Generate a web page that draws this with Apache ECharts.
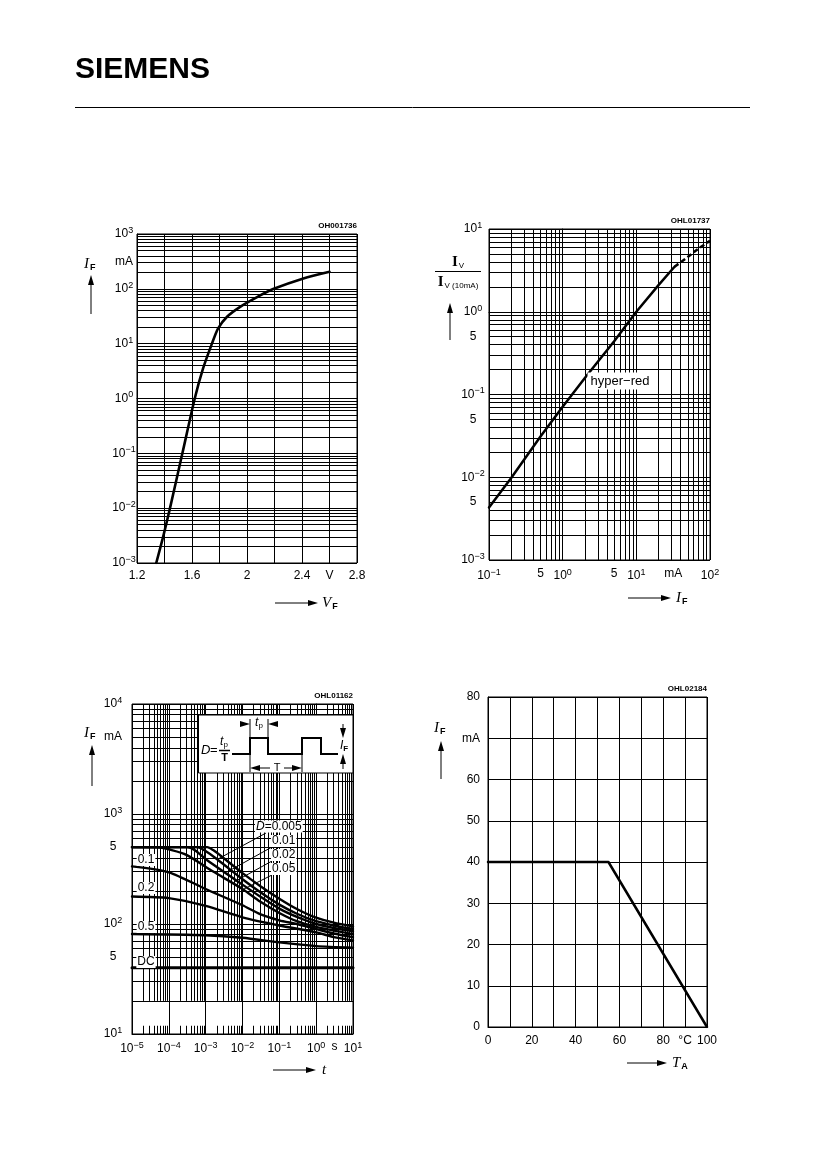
<!DOCTYPE html>
<html><head><meta charset="utf-8">
<script src="https://cdn.jsdelivr.net/npm/echarts@6.0.0/dist/echarts.min.js"></script>
<style>html,body{margin:0;padding:0;background:#fff}#c{width:826px;height:1169px}</style>
</head><body><div id="c"></div>
<script>
// ---------------- DATA ----------------
// Chart 1: I_F = f(V_F)
const vfVolts   = [1.34, 1.39, 1.44, 1.53, 1.62, 1.68, 1.745, 1.79, 1.855, 1.95, 2.07, 2.19, 2.41, 2.6];
const ifForward = [0.001, 0.003, 0.01, 0.1, 1, 3.5, 10, 19, 31, 47, 70, 99, 155, 205];
// Chart 2: I_V / I_V(10mA) = f(I_F)
const ivCurrent    = [0.1, 0.2, 0.5, 1, 2, 5, 10, 20, 33];
const ivRatio      = [0.0043, 0.0098, 0.031, 0.071, 0.158, 0.44, 1.0, 2.1, 3.5];
const ivCurrentExt = [33, 50, 70, 100];
const ivRatioExt   = [3.5, 4.6, 5.8, 7.2];
// Chart 3: I_F = f(t_p), D = parameter  ([t in s, I_F in mA])
const pulseD0005 = [[1e-5,500],[1.1e-3,500],[1.6e-3,470],[3e-3,400],[1e-2,290],[3e-2,222],[0.1,170],[0.3,137],[1,114],[3,103],[10,95]];
const pulseD001  = [[1e-5,500],[6e-4,500],[9e-4,470],[2e-3,390],[1e-2,255],[3e-2,195],[0.1,150],[0.3,124],[1,106],[3,97],[10,90]];
const pulseD002  = [[1e-5,500],[3.2e-4,500],[5e-4,470],[1.1e-3,380],[1e-2,228],[3e-2,178],[0.1,138],[0.3,116],[1,100],[3,92],[10,86]];
const pulseD005  = [[1e-5,500],[5e-5,498],[1.2e-4,470],[3e-4,425],[1.6e-3,300],[1e-2,208],[3e-2,160],[0.1,126],[0.3,106],[1,94],[3,87],[10,81]];
const pulseD01   = [[1e-5,334],[1e-4,295],[1e-3,208],[1e-2,148],[3e-2,123],[0.1,108],[0.3,100],[1,90],[3,82],[10,76]];
const pulseD02   = [[1e-5,178],[1e-4,172],[1e-3,146],[1e-2,115],[0.1,97],[1,84],[3,76],[10,71]];
const pulseD05   = [[1e-5,81],[1e-3,79],[1e-2,75],[0.1,68],[1,63],[10,61]];
const pulseDC    = [[1e-5,40],[10,40]];
const pulseLabels = ['0.1','0.2','0.5','DC'];
const dLabels = ['D=0.005','0.01','0.02','0.05'];
// Chart 4: I_F = f(T_A)
const taCelsius = [0, 55, 100];
const ifMax     = [40, 40, 0];
// Tick labels
const c1XLabels = [1.2, 1.6, 2, 2.4, 2.6, 2.8];
const c4XLabels = [0, 20, 40, 60, 80, 90, 100];
const c4YLabels = [0, 10, 20, 30, 40, 50, 60, 70, 80];

// ---------------- HELPERS ----------------
const FONT = '"Liberation Sans", Arial, sans-serif';
const L = Math.log10;
const isInt = v => Math.abs(v - Math.round(v)) < 1e-6;
const near = (a, b) => Math.abs(a - b) < 1e-6;
function expLabel(v){ const e = Math.round(v); return '{b|10}{s|' + (e < 0 ? '−' + (-e) : e) + '}'; }
const rich = {
  b: {fontSize: 12, fontFamily: FONT, color: '#000'},
  s: {fontSize: 9, fontFamily: FONT, color: '#000', padding: [0, 0, 7, 0]}
};
function logGrid(lo, hi){ const a = []; for (let e = lo; e < hi; e++) for (let k = 1; k <= 9; k++) a.push(e + L(k)); a.push(hi); return a; }
const black = {color: '#000', width: 1};
function baseAxis(gi, extra){
  return Object.assign({
    type: 'value', gridIndex: gi,
    axisLine: {show: true, lineStyle: black},
    axisTick: {show: false},
    splitLine: {show: true, lineStyle: black},
  }, extra);
}
function lbl(extra){ return Object.assign({color: '#000', fontSize: 12, fontFamily: FONT, rich}, extra); }
function toLog(pairs){ return pairs.map(p => [L(p[0]), L(p[1])]); }
function curve(xi, data, w, extra){
  return Object.assign({type: 'line', xAxisIndex: xi, yAxisIndex: xi, data, symbol: 'none', showSymbol: false,
    smooth: 0.25, lineStyle: {color: '#000', width: w || 2.4, join: 'round', cap: 'round'}, z: 5, silent: true}, extra || {});
}

// chart 3 vertical grid (minor lines stop at 20 mA, short ticks at bottom)
const c3VLines = [];
for (let e = -5; e <= 1; e++) c3VLines.push([{coord: [e, 1]}, {coord: [e, 4]}]);
for (let e = -5; e < 1; e++) for (let k = 2; k <= 9; k++) {
  const x = e + L(k);
  c3VLines.push([{coord: [x, 1]}, {coord: [x, 1.075]}]);
  c3VLines.push([{coord: [x, L(20)]}, {coord: [x, 4]}]);
}

// ---------------- GRAPHIC ANNOTATIONS ----------------
const g = [];
let Z = 100;
function txt(x, y, text, opt){ g.push({type: 'text', z: Z, silent: true, style: Object.assign({x, y, text, fill: '#000', fontSize: 12, fontFamily: FONT, align: 'left', verticalAlign: 'middle'}, opt || {})}); }
function ln(x1, y1, x2, y2, w){ g.push({type: 'line', z: Z, silent: true, shape: {x1, y1, x2, y2}, style: {stroke: '#000', lineWidth: w || 1}}); }
function poly(points){ g.push({type: 'polygon', z: Z, silent: true, shape: {points}, style: {fill: '#000'}}); }
function arrowUp(x, yb, yt){ ln(x, yb, x, yt + 8); poly([[x - 3, yt + 10], [x + 3, yt + 10], [x, yt]]); }
function arrowDown(x, yt, yb){ ln(x, yt, x, yb - 8); poly([[x - 3, yb - 10], [x + 3, yb - 10], [x, yb]]); }
function arrowRight(xl, xr, y){ ln(xl, y, xr - 8, y); poly([[xr - 10, y - 3], [xr - 10, y + 3], [xr, y]]); }
function arrowLeft(xr, xl, y){ ln(xr, y, xl + 8, y); poly([[xl + 10, y - 3], [xl + 10, y + 3], [xl, y]]); }
const symRich = {
  i: {fontFamily: '"Liberation Serif", serif', fontStyle: 'italic', fontSize: 15, color: '#000'},
  f: {fontFamily: FONT, fontSize: 9, fontWeight: 'bold', color: '#000', padding: [7, 0, 0, 1]}
};
function sym(x, y, main, sub, align){ txt(x, y, '{i|' + main + '}' + (sub ? '{f|' + sub + '}' : ''), {rich: symRich, align: align || 'left'}); }

// header
txt(75, 70, 'SIEMENS', {fontSize: 30, fontWeight: 'bold'});
ln(75, 107.5, 750, 107.5, 1);
// IDs
const idStyle = {align: 'right', fontSize: 8, fontWeight: 'bold', fontFamily: '"Liberation Sans Narrow", "Liberation Sans", sans-serif'};
txt(357, 226, 'OH001736', idStyle);
txt(710, 221, 'OHL01737', idStyle);
txt(353, 696, 'OHL01162', idStyle);
txt(707, 689, 'OHL02184', idStyle);

// chart 1 axis titles
sym(84, 264, 'I', 'F'); arrowUp(91, 314, 275);
arrowRight(275, 318, 603); sym(322, 603, 'V', 'F');
// chart 2 axis titles
txt(458, 262, '{I|I}{v|V}', {align: 'center', rich: {I: {fontFamily: '"Liberation Serif", serif', fontWeight: 'bold', fontSize: 15, color: '#000'}, v: {fontSize: 8, fontFamily: FONT, color: '#000', padding: [7, 0, 0, 1]}}});
ln(435, 271.5, 481, 271.5, 1);
txt(458, 282, '{I|I}{v|V (10mA)}', {align: 'center', rich: {I: {fontFamily: '"Liberation Serif", serif', fontWeight: 'bold', fontSize: 15, color: '#000'}, v: {fontSize: 8, fontFamily: FONT, color: '#000', padding: [7, 0, 0, 1]}}});
arrowUp(450, 340, 303);
arrowRight(628, 671, 598); sym(676, 598, 'I', 'F');
txt(620, 381, 'hyper−red', {align: 'center', fontSize: 13, backgroundColor: '#fff', padding: [2, 3]});
// chart 3 axis titles
sym(84, 733, 'I', 'F'); arrowUp(92, 786, 745);
arrowRight(273, 316, 1070); sym(322, 1070, 't', '');
// chart 3 curve labels
const lblBox = {fontSize: 12, align: 'center', backgroundColor: '#fff', padding: [0, 1]};
txt(146, 860, pulseLabels[0], lblBox);
txt(146, 888, pulseLabels[1], lblBox);
txt(146, 927, pulseLabels[2], lblBox);
txt(146, 962, pulseLabels[3], lblBox);
ln(266, 833, 218, 859); ln(272, 847, 227, 872); ln(272, 861, 234, 882); ln(272, 875, 244, 889);
txt(255, 826.5, '{d|D}=0.005', {fontSize: 12, backgroundColor: '#fff', padding: [0, 1], rich: {d: {fontStyle: 'italic', fontSize: 12, fontFamily: FONT, color: '#000'}}});
txt(271, 841, dLabels[1], {fontSize: 12, backgroundColor: '#fff', padding: [0, 1]});
txt(271, 855, dLabels[2], {fontSize: 12, backgroundColor: '#fff', padding: [0, 1]});
txt(271, 869, dLabels[3], {fontSize: 12, backgroundColor: '#fff', padding: [0, 1]});
// chart 3 inset (pulse definition)
g.push({type: 'rect', z: Z, silent: true, shape: {x: 198.5, y: 715, width: 154.5, height: 58}, style: {fill: '#fff', stroke: '#000', lineWidth: 1}});
Z = 101;
g.push({type: 'polyline', z: Z, silent: true, shape: {points: [[232,754],[250,754],[250,738],[268,738],[268,754],[302,754],[302,738],[321,738],[321,754],[338,754]]}, style: {stroke: '#000', lineWidth: 2, fill: null}});
txt(201, 750, 'D', {fontSize: 13, fontStyle: 'italic'});
txt(210, 750, '=', {fontSize: 13});
txt(224, 742, '{i|t}{p|p}', {align: 'center', rich: {i: {fontStyle: 'italic', fontSize: 12, fontFamily: FONT, color: '#000'}, p: {fontSize: 8, fontFamily: FONT, color: '#000', padding: [5, 0, 0, 0]}}});
ln(219, 750.5, 230, 750.5, 1.5);
txt(224.5, 758, 'T', {align: 'center', fontSize: 11, fontWeight: 'bold'});
ln(250, 719, 250, 737); ln(268, 719, 268, 737);
arrowRight(240, 250, 724); arrowLeft(278, 268, 724);
txt(259, 723, '{i|t}{p|p}', {align: 'center', rich: {i: {fontStyle: 'italic', fontSize: 12, fontFamily: FONT, color: '#000'}, p: {fontSize: 8, fontFamily: FONT, color: '#000', padding: [5, 0, 0, 0]}}});
ln(250, 755, 250, 772); ln(302, 755, 302, 772);
arrowLeft(270, 250, 768); arrowRight(284, 302, 768);
txt(277, 768, 'T', {align: 'center', fontSize: 11});
arrowDown(343, 724, 738); arrowUp(343, 769, 754);
txt(344, 746, '{i|I}{f|F}', {align: 'center', rich: {i: {fontStyle: 'italic', fontSize: 12, fontFamily: FONT, color: '#000'}, f: {fontSize: 8, fontWeight: 'bold', fontFamily: FONT, color: '#000', padding: [5, 0, 0, 0]}}});
Z = 100;
// chart 4 axis titles
sym(434, 728, 'I', 'F'); arrowUp(441, 779, 741);
arrowRight(627, 667, 1063); sym(672, 1063, 'T', 'A');

// ---------------- OPTION ----------------
const option = {
  animation: false,
  textStyle: {fontFamily: FONT, color: '#000'},
  grid: [
    {left: 137, top: 234, width: 220, height: 329, show: true, borderColor: '#000', borderWidth: 1, backgroundColor: '#fff'},
    {left: 489, top: 229, width: 221, height: 331, show: true, borderColor: '#000', borderWidth: 1, backgroundColor: '#fff'},
    {left: 132, top: 704, width: 221, height: 330, show: true, borderColor: '#000', borderWidth: 1, backgroundColor: '#fff'},
    {left: 488, top: 697, width: 219, height: 330, show: true, borderColor: '#000', borderWidth: 1, backgroundColor: '#fff'}
  ],
  xAxis: [
    baseAxis(0, {min: 1.2, max: 2.8, interval: 0.2,
      axisLabel: lbl({customValues: c1XLabels, margin: 7, formatter: v => near(v, 2.6) ? 'V' : String(+v.toFixed(1))})}),
    baseAxis(1, {min: -1, max: 2, interval: 1, axisTick: {show: false, customValues: logGrid(-1, 2)},
      axisLabel: lbl({customValues: [-1, L(0.5), 0, L(5), 1, 1.5, 2], margin: 8,
        formatter: v => isInt(v) ? expLabel(v) : (near(v, 1.5) ? '{b|mA}' : '{b|5}')})}),
    baseAxis(2, {min: -5, max: 1, interval: 1, splitLine: {show: false},
      axisLabel: lbl({customValues: [-5, -4, -3, -2, -1, 0, 0.5, 1], margin: 7,
        formatter: v => isInt(v) ? expLabel(v) : '{b|s}'})}),
    baseAxis(3, {min: 0, max: 100, interval: 10,
      axisLabel: lbl({customValues: c4XLabels, margin: 8, formatter: v => near(v, 90) ? '°C' : String(v)})})
  ],
  yAxis: [
    baseAxis(0, {min: -3, max: 3, interval: 1, axisTick: {show: false, customValues: logGrid(-3, 3)},
      axisLabel: lbl({customValues: [-3, -2, -1, 0, 1, 2, 2.5, 3], margin: 13, align: 'center',
        formatter: v => near(v, 2.5) ? '{b|mA}' : expLabel(v)})}),
    baseAxis(1, {min: -3, max: 1, interval: 1, axisTick: {show: false, customValues: logGrid(-3, 1)},
      axisLabel: lbl({customValues: [-3, L(0.005), -2, L(0.05), -1, L(0.5), 0, 1], margin: 16, align: 'center',
        formatter: v => isInt(v) ? expLabel(v) : '{b|5}'})}),
    baseAxis(2, {min: 1, max: 4, interval: 1, axisTick: {show: false, customValues: logGrid(1, 4)},
      axisLabel: lbl({customValues: [1, L(50), 2, L(500), 3, L(5000), 4], margin: 19, align: 'center',
        formatter: v => isInt(v) ? expLabel(v) : (near(v, L(5000)) ? '{b|mA}' : '{b|5}')})}),
    baseAxis(3, {min: 0, max: 80, interval: 10,
      axisLabel: lbl({customValues: c4YLabels, margin: 8, align: 'right', formatter: v => near(v, 70) ? 'mA' : String(v)})})
  ],
  series: [
    curve(0, vfVolts.map((v, i) => [v, L(ifForward[i])]), 2.6),
    curve(1, ivCurrent.map((c, i) => [L(c), L(ivRatio[i])]), 2.5, {smooth: false}),
    curve(1, ivCurrentExt.map((c, i) => [L(c), L(ivRatioExt[i])]), 2.5, {smooth: 0.3, lineStyle: {color: '#000', width: 2.5, type: [5, 3]}}),
    {type: 'line', xAxisIndex: 2, yAxisIndex: 2, data: [[-5, 1]], symbol: 'none', showSymbol: false, silent: true, z: 1,
      lineStyle: {width: 0},
      markLine: {silent: true, symbol: ['none', 'none'], label: {show: false}, animation: false,
        lineStyle: {color: '#000', width: 1, type: 'solid'}, emphasis: {disabled: true}, data: c3VLines}},
    curve(2, toLog(pulseD0005)),
    curve(2, toLog(pulseD001)),
    curve(2, toLog(pulseD002)),
    curve(2, toLog(pulseD005)),
    curve(2, toLog(pulseD01)),
    curve(2, toLog(pulseD02)),
    curve(2, toLog(pulseD05)),
    curve(2, toLog(pulseDC), 3, {smooth: false}),
    curve(3, taCelsius.map((t, i) => [t, ifMax[i]]), 2.5, {smooth: false})
  ],
  graphic: {elements: g}
};
const chart = echarts.init(document.getElementById('c'), null, {renderer: 'canvas'});
chart.setOption(option);
</script>
</body></html>
